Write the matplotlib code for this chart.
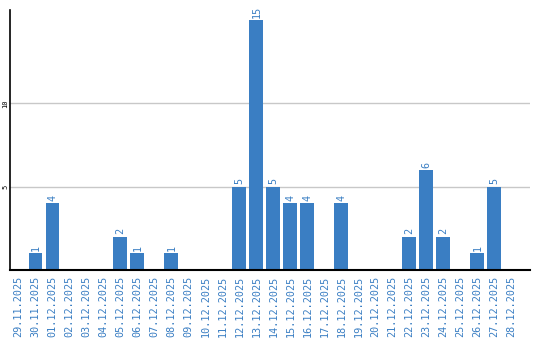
import matplotlib
matplotlib.use("Agg")
import matplotlib.pyplot as plt

dates = ["29.11.2025", "30.11.2025", "01.12.2025", "02.12.2025", "03.12.2025",
         "04.12.2025", "05.12.2025", "06.12.2025", "07.12.2025", "08.12.2025",
         "09.12.2025", "10.12.2025", "11.12.2025", "12.12.2025", "13.12.2025",
         "14.12.2025", "15.12.2025", "16.12.2025", "17.12.2025", "18.12.2025",
         "19.12.2025", "20.12.2025", "21.12.2025", "22.12.2025", "23.12.2025",
         "24.12.2025", "25.12.2025", "26.12.2025", "27.12.2025", "28.12.2025"]
values = [0, 1, 4, 0, 0, 0, 2, 1, 0, 1, 0, 0, 0, 5, 15, 5, 4, 4, 0, 4,
          0, 0, 0, 2, 6, 2, 0, 1, 5, 0]
yticks = [5, 10]

blue = "#3a7ec3"
fig = plt.figure(figsize=(5.4, 3.4), dpi=100)
ax = fig.add_axes([10/540, 70/340, 520/540, 260/340])
x = list(range(len(dates)))
bars = ax.bar(x, values, width=0.82, color=blue, zorder=2)
for xi, v in zip(x, values):
    if v > 0:
        ax.text(xi, v + 0.15, str(v), rotation=90, ha="center", va="bottom",
                color=blue, fontsize=7.3, family="DejaVu Sans Mono")
ax.set_xlim(-0.5, 30.1)
ax.set_ylim(0, 15.6)
ax.set_yticks(yticks)
ax.set_yticklabels([str(t) for t in yticks], rotation=90, va="center",
                   fontsize=5, family="DejaVu Sans Mono")
ax.set_xticks(x)
ax.set_xticklabels(dates, rotation=90, fontsize=7.3, color=blue,
                   family="DejaVu Sans Mono")
ax.tick_params(axis="both", length=0)
ax.tick_params(axis="x", pad=4)
ax.tick_params(axis="y", pad=1)
ax.grid(axis="y", color="#c8c8c8", linewidth=1, zorder=0)
for s in ["top", "right"]:
    ax.spines[s].set_visible(False)
ax.spines["left"].set_linewidth(1.2)
ax.spines["bottom"].set_linewidth(1.5)
fig.savefig("out.png", dpi=100)
